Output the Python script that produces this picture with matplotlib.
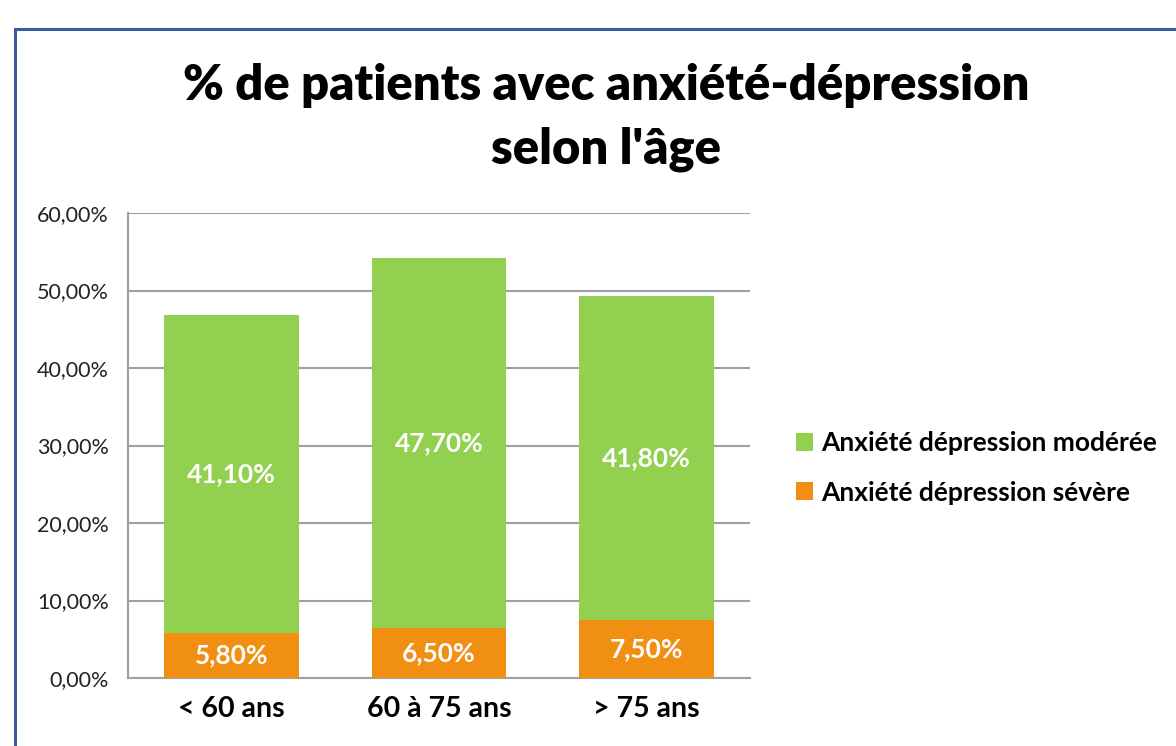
import matplotlib.pyplot as plt
from matplotlib.patches import Rectangle
from matplotlib.ticker import FuncFormatter

# Données
categories = ["< 60 ans", "60 à 75 ans", "> 75 ans"]
severe = [5.8, 6.5, 7.5]
moderee = [41.1, 47.7, 41.8]
labels_series = ["Anxiété dépression modérée", "Anxiété dépression sévère"]
title = "% de patients avec anxiété-dépression\nselon l'âge"

GREEN = "#92D050"
ORANGE = "#F18F12"
GRID = "#A0A0A0"

plt.rcParams['font.family'] = ['Lato', 'DejaVu Sans']

W, H = 1176, 746
fig = plt.figure(figsize=(W / 100, H / 100), dpi=100)
fig.patch.set_facecolor("white")

# cadre
fig.patches.append(Rectangle((15 / W, -0.1), 1.2, 1.1 - 29 / H,
                             transform=fig.transFigure, fill=False,
                             edgecolor="#3A5A9A", linewidth=2.2))

ax = fig.add_axes([128 / W, 1 - 678 / H, (750 - 128) / W, (678 - 213) / H])

x = range(len(categories))
bw = 0.65
ax.bar(x, severe, bw, color=ORANGE, label=labels_series[1], zorder=3)
ax.bar(x, moderee, bw, bottom=severe, color=GREEN, label=labels_series[0], zorder=3)

for i in x:
    ax.text(i, severe[i] / 2, "{:.2f}%".format(severe[i]).replace(".", ","),
            ha="center", va="center", color="white", fontsize=19, fontweight="bold", zorder=4)
    ax.text(i, severe[i] + moderee[i] / 2, "{:.2f}%".format(moderee[i]).replace(".", ","),
            ha="center", va="center", color="white", fontsize=19, fontweight="bold", zorder=4)

ax.set_xlim(-0.5, 2.5)
ax.set_ylim(0, 60)
ax.set_yticks(range(0, 61, 10))
ax.yaxis.set_major_formatter(FuncFormatter(lambda v, p: "{:.2f}%".format(v).replace(".", ",")))
ax.set_xticks(list(x))
ax.set_xticklabels(categories, fontsize=20.5, fontweight="bold")
ax.tick_params(axis="y", labelsize=15.5, length=0, pad=14, colors="#222222")
ax.tick_params(axis="x", length=0, pad=13)
ax.grid(axis="y", color=GRID, linewidth=1.5, zorder=0)
for s in ["top", "right"]:
    ax.spines[s].set_visible(False)
for s in ["left", "bottom"]:
    ax.spines[s].set_color(GRID)
    ax.spines[s].set_linewidth(1.5)

fig.text(606 / W, 1 - 118 / H, title, ha="center", va="center", fontsize=35.2,
         fontweight="heavy", linespacing=1.5)

h, l = ax.get_legend_handles_labels()
leg = fig.legend(h[::-1], l[::-1], loc="center left", bbox_to_anchor=(772 / W, 1 - 468 / H),
                 frameon=False, prop={"size": 19, "weight": "bold"},
                 handlelength=0.65, handleheight=0.65, handletextpad=0.3, labelspacing=0.95)

fig.savefig("out.png", dpi=100)
